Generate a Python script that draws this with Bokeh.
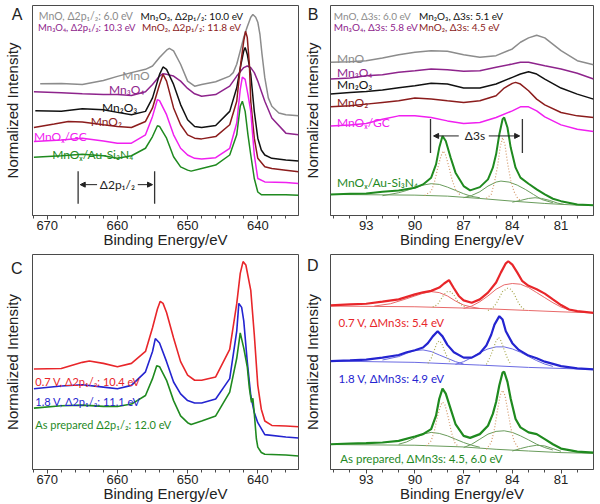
from bokeh.plotting import figure
from bokeh.layouts import column, row
from bokeh.models import Range1d, Label, Arrow, NormalHead, FixedTicker
from bokeh.embed import file_html
from bokeh.resources import INLINE

# ---------------- Panel A : Mn 2p ----------------
A_MnO = [(671, 130.7), (668, 131), (665, 130), (662, 134), (660, 138), (658, 141.7), (656, 145), (655, 148.3),
         (654, 156.7), (653, 164), (652.6, 165.7), (652, 163.3), (651, 150), (650, 133.3), (649, 128.3), (648, 130),
         (646, 132.7), (644, 138.3), (643.5, 141.7), (643, 150), (642.5, 163.3), (642, 176.7), (641.5, 187.3),
         (641, 196.7), (640.7, 199.3), (640.3, 196.7), (640, 191.7), (639.7, 180), (639.4, 160), (639, 136.7),
         (638.5, 116.7), (638, 108.3), (637, 101.7), (636, 100), (634.2, 99)]
A_Mn3O4 = [(671.9, 122.7), (668, 121.7), (665, 120.7), (662, 120), (660, 120), (658, 119), (656, 122.7), (655, 130),
           (654, 138.3), (653.5, 140.7), (653, 140), (652, 138.3), (651, 133.3), (650, 126), (649, 120.7), (648, 118.3),
           (646, 120), (644, 128.3), (643, 138.3), (642, 146.7), (641.5, 148.3), (641, 146.7), (640.5, 141.7),
           (640, 133.3), (639.5, 123.3), (639, 113.3), (638, 96.7), (636, 81.7), (634.2, 80)]
A_Mn2O3 = [(671.7, 104), (668, 103.3), (665, 106), (662, 105), (660, 102.3), (658, 100), (656, 103.3), (655, 116.7),
           (654, 140), (653.5, 147.3), (653, 145), (652, 130), (651, 110), (650, 95), (649, 88.3), (648, 87.3),
           (646, 89.3), (644, 103.3), (643, 126.7), (642.4, 150), (642, 163.3), (641.8, 166.7), (641.5, 160),
           (641, 140), (640.5, 103.3), (640, 76.7), (639.5, 65), (639, 60), (638, 56.7), (636, 55), (634.2, 54)]
A_MnO2 = [(671.9, 87.3), (669, 90.7), (667, 93.3), (665, 92.7), (662, 90), (660, 88.3), (658, 87.3), (656, 93.3),
          (655, 106.7), (654, 130), (653.5, 140), (653, 133.3), (652, 106.7), (651, 90), (650, 80), (649, 76.7),
          (648, 76), (646, 78.3), (644, 90), (643, 113.3), (642.5, 146.7), (642, 173.3), (641.75, 182.7),
          (641.5, 176.7), (641.2, 150), (641, 113.3), (640.5, 76.7), (640, 56.7), (639, 48.3), (638, 46.7),
          (636, 45), (634.2, 43.3)]
A_GC = [(671.9, 73.3), (668, 75), (665, 76.7), (662, 74), (660, 71.7), (658, 71.7), (656, 80), (655, 98.3),
        (654.3, 115), (654, 114), (653, 100), (652, 80), (651, 66.7), (650, 60), (649, 56.7), (648, 56), (646, 57.3),
        (644, 66.7), (643, 91.7), (642.5, 125), (642.2, 137.3), (641.8, 135), (641.4, 120), (641, 103.3),
        (640.5, 60), (640, 36.7), (639, 33.3), (636, 32.7), (634.2, 31.7)]
A_Au = [(671.9, 57.7), (668, 59.3), (665, 60.7), (662, 59.3), (660, 56.7), (658, 59.3), (656, 66.7), (655, 78.3),
        (654.3, 89), (654, 88.3), (653, 76.7), (652, 58.3), (651, 48.3), (650, 45), (649.5, 44), (648, 46.7),
        (646, 50), (644, 60), (643, 80), (642.5, 108.3), (642.2, 113.3), (641.8, 103.3), (641.4, 80), (641, 60),
        (640.5, 36.7), (640, 23.3), (639.5, 20.7), (636, 20.7), (634.2, 20)]
A_marks = [665.6, 654.7]          # Δ2p1/2 bracket positions (eV)
A_mark_y = [11.6, 44]

# ---------------- Panel B : Mn 3s ----------------
B_MnO = [(95.2, 152.7), (94, 153.3), (93, 154.3), (92, 157), (91, 160.3), (90, 162.7), (89, 164.3), (88, 163.7),
         (87, 160.3), (86, 157.7), (85, 159.3), (84, 166), (83.5, 172.7), (83, 177), (82.5, 179.7), (82, 177),
         (81, 164.3), (80, 154.3), (79, 150.3)]
B_Mn3O4 = [(95.2, 136), (94, 137), (93, 139.3), (92, 140.3), (91, 142.7), (90, 144.3), (89, 146), (88, 145.3),
           (87, 143.7), (86, 144.3), (85, 147.7), (84, 151), (83.5, 152.7), (83, 152.7), (82.5, 151), (82, 149.3),
           (81, 146), (80, 141.7), (79, 136)]
B_Mn2O3 = [(95.2, 121), (94, 122.7), (93, 123.7), (92, 125), (91, 127.3), (90, 129.3), (89, 131.7), (88, 131),
           (87, 127), (86, 127), (85, 131), (84, 137.7), (83.5, 141), (83, 143.3), (82.5, 141), (82, 136), (81, 127),
           (80, 121), (79, 116)]
B_MnO2 = [(95.2, 108.3), (94, 109.3), (93, 111), (92, 112.7), (91, 114.3), (90, 117), (89, 116), (88, 114.3),
          (87, 112.7), (86, 114.3), (85, 119.3), (84.5, 127), (84, 131.7), (83.8, 132.7), (83.5, 131), (83, 124.3),
          (82.5, 116), (82, 110.3), (81, 102.7), (80, 99.3), (79, 97.7)]
B_GC = [(95.2, 89.3), (94, 90.3), (93, 91.7), (92, 96), (91, 99.3), (90, 99.3), (89, 97.7), (88, 94.3), (87, 91.7),
        (86, 92.7), (85, 97.7), (84, 104.3), (83.5, 108.3), (83, 108.3), (82.5, 104.3), (82, 98.3), (81, 90.3),
        (80, 86), (79, 83.7)]
B_Au = [(95.2, 21), (94, 21.7), (93, 22), (92, 23.7), (91, 25), (90, 27.7), (89.5, 31), (89, 37.7), (88.7, 51),
        (88.5, 67.7), (88.3, 79.3), (88.1, 74.3), (87.8, 57.7), (87.5, 42.7), (87, 29.3), (86.6, 25), (86, 28.3),
        (85.5, 36), (85.2, 47.7), (85, 61), (84.8, 81), (84.6, 96), (84.5, 97.7), (84.3, 87.7), (84.1, 67.7),
        (83.8, 47.7), (83.5, 37.7), (83, 31.7), (82.5, 26), (82, 21), (81.5, 16.7), (81, 14.3), (80, 11), (79, 10.3)]
B_bg = [(95.2, 21), (90, 20.3), (88, 19.3), (86, 17), (84, 14.3), (82, 12), (80, 10.3), (79, 10)]
B_fit1 = [(92, 19.7), (91, 22.7), (90.5, 25), (90, 27.7), (89.5, 30.3), (89, 31.7), (88.5, 31), (88, 28.3),
          (87.5, 25), (87, 21.7), (86.5, 19), (86, 17.7)]
B_fit2 = [(87, 17.7), (86.5, 20), (86, 23.7), (85.5, 29.3), (85, 33.3), (84.7, 34.3), (84.2, 33.3), (83.7, 30.3),
          (83.2, 26), (82.7, 21), (82.2, 16), (81.5, 12.7)]
B_fit3 = [(84, 13.3), (83.5, 15), (83, 17), (82.6, 17.7), (82.2, 17), (81.7, 15), (81.2, 12.3), (80.8, 11)]
B_dot1 = [(89.4, 20), (89, 24), (88.8, 33), (88.6, 47), (88.4, 59), (88.25, 64.3), (88.1, 60), (87.9, 48),
          (87.7, 35), (87.5, 26), (87.2, 20)]
B_dot2 = [(85.6, 17), (85.3, 21), (85.1, 33), (84.9, 50), (84.75, 68), (84.6, 77.7), (84.45, 70), (84.3, 53),
          (84.1, 35), (83.9, 24), (83.7, 18), (83.5, 15)]
B_marks = [89.04, 83.38]
B_mark_y = [62.3, 96.3]

# ---------------- Panel C : Mn 2p vs potential ----------------
C_07 = [(671.9, 98.7), (668, 99.3), (665, 105.3), (664, 106.7), (662, 104.3), (660, 101), (658, 104.3), (656, 116),
        (655, 139.3), (654.3, 157.7), (653.9, 165.3), (653.5, 163.3), (653, 154.3), (652, 129.3), (651, 106),
        (650, 92.7), (649, 87.7), (648, 87.7), (646, 91), (644, 118), (643, 163), (642.5, 192.7), (642.1, 204.3),
        (641.7, 201), (641, 176), (640.5, 132.7), (640, 82.7), (639.5, 59.3), (639, 47.7), (638, 43.3),
        (636, 42.7), (634.2, 42)]
C_18 = [(671.9, 79.3), (668, 82), (665, 83.3), (662, 81), (660, 79.3), (658, 82.7), (656, 96), (655, 116),
        (654.6, 128.7), (654, 124.3), (653, 106), (652, 86), (651, 74.3), (650, 67.7), (649, 65.3), (648, 65.3),
        (646, 69.3), (644, 89.3), (643, 136), (642.7, 163.3), (642.3, 159.3), (642, 146), (641.5, 106),
        (641, 72.7), (640.5, 56), (640, 46), (639, 34.3), (636, 32), (634.2, 31)]
C_AP = [(671.9, 60.3), (668, 62.7), (665, 63.3), (662, 62), (660, 62), (658, 64.3), (656, 72.7), (655, 89.3),
        (654.4, 102), (654, 101), (653, 87.7), (652, 67.7), (651, 52.7), (650, 46), (649.5, 44.3), (648, 47.7),
        (646, 52.7), (644, 76), (643, 109.3), (642.5, 134.3), (642, 119.3), (641.5, 101), (641.2, 80),
        (640.9, 66), (640.7, 70), (640.5, 55), (640.2, 30), (640, 22), (639.5, 16.7), (639, 15), (636, 14.3),
        (634.2, 13.3)]

# ---------------- Panel D : Mn 3s vs potential ----------------
D_07 = [(95.2, 162.3), (94, 163.3), (93, 164), (92, 166), (91, 168.3), (90, 173.3), (89.5, 175.3), (89, 176.7),
        (88.5, 180), (88.2, 184), (87.9, 187.3), (87.6, 179.3), (87.3, 171.7), (87, 167.3), (86.5, 165),
        (86, 168.3), (85.5, 175), (85, 185), (84.7, 195), (84.4, 204), (84.25, 206), (84, 202.7), (83.7, 195),
        (83.4, 186.7), (83, 181.7), (82.5, 178.3), (82, 174), (81.5, 168.3), (81, 162.7), (80.5, 158.3),
        (80, 156.7), (79, 155)]
D_07_bg = [(95.2, 161.7), (90, 161), (86, 159.3), (83, 157.3), (81, 156), (79, 155)]
D_07_fit1 = [(92.5, 161.7), (91.5, 164), (90.5, 169), (90, 171.7), (89.5, 174.3), (89, 176), (88.5, 175),
             (88, 171.7), (87.5, 166.7), (87, 162.7), (86.5, 160.7), (86, 159.3)]
D_07_fit2 = [(87, 159.3), (86.5, 161.7), (86, 166), (85.5, 171.7), (85, 178.3), (84.5, 182.7), (84, 184),
             (83.5, 183.3), (83, 180), (82.5, 175), (82, 170), (81.5, 165), (81, 160.7), (80.5, 158), (80, 156.7)]
D_07_dot1 = [(88.9, 160.7), (88.6, 163.3), (88.4, 168.3), (88.2, 173.3), (88, 176), (87.8, 176), (87.6, 172.7),
             (87.4, 167.3), (87.2, 163.3), (86.9, 160.7)]
D_07_dot2 = [(85.5, 157.3), (85.2, 160), (85, 164), (84.8, 170), (84.6, 176), (84.3, 179.3), (84.1, 178.3),
             (83.9, 174), (83.7, 167.3), (83.5, 161.7), (83.2, 157.3)]
D_18 = [(95.2, 107.3), (94, 108), (93, 108.7), (92, 110.7), (91, 113.3), (90.5, 116), (90, 118), (89.5, 120.7),
        (89.2, 125), (88.9, 131.7), (88.6, 136.7), (88.3, 131.7), (88, 123.3), (87.6, 116), (87, 110.7),
        (86.5, 110.7), (86, 115), (85.6, 122.7), (85.3, 133.3), (85.1, 143.3), (84.8, 151.7), (84.6, 148.3),
        (84.4, 136.7), (84, 125), (83.6, 118.3), (83, 112.7), (82.5, 110), (82, 106.7), (81, 102.3), (80, 100),
        (79, 99)]
D_18_bg = [(95.2, 107.3), (90, 106), (86, 103.3), (83, 101), (79, 99)]
D_18_fit1 = [(92, 108.3), (91, 111.7), (90.5, 115), (90, 117.7), (89.5, 118.3), (89, 116.7), (88.5, 113.3),
             (88, 110), (87.5, 106.7), (87, 104.3)]
D_18_fit2 = [(87.5, 104), (87, 106.7), (86.5, 110.7), (86, 115.7), (85.5, 119.3), (85, 121.3), (84.5, 121.3),
             (84, 119.3), (83.5, 116), (83, 111.7), (82.5, 107.7), (82, 104.3), (81.5, 102)]
D_18_dot1 = [(89.2, 105), (89, 110), (88.8, 118.3), (88.65, 125), (88.5, 127.3), (88.35, 125), (88.2, 118.3),
             (88, 110.7), (87.8, 105)]
D_18_dot2 = [(85.6, 104), (85.4, 110), (85.2, 118.3), (85, 127.3), (84.85, 130.7), (84.7, 127.3), (84.5, 118.3),
             (84.3, 110), (84.1, 104)]
D_AP = [(95.2, 25), (94, 25.7), (93, 26), (92, 26.7), (91, 28.3), (90, 32.7), (89.5, 35), (89, 40), (88.7, 53.3),
        (88.5, 70), (88.3, 80), (88.1, 75), (87.8, 60), (87.5, 45), (87, 33.3), (86.6, 31.3), (86, 35), (85.5, 43.3),
        (85.2, 55), (85, 66.7), (84.8, 83.3), (84.6, 96), (84.5, 96.7), (84.3, 86.7), (84.1, 70), (83.8, 50),
        (83.5, 41.7), (83, 36.7), (82.5, 35), (82, 30), (81.5, 25), (81, 20.7), (80, 17.7), (79, 16.7)]
D_AP_bg = [(95.2, 24.7), (90, 24), (87, 22.3), (85, 20), (83, 18.3), (81, 16.7), (79, 16)]
D_AP_fit1 = [(91, 25), (90.5, 27.3), (90, 31.3), (89.5, 35), (89, 36.7), (88.5, 35.7), (88, 33.3), (87.5, 30),
             (87, 26.7), (86.5, 24), (86, 22)]
D_AP_fit2 = [(87, 21.7), (86.5, 25), (86, 30), (85.5, 35), (85, 37.7), (84.5, 38.3), (84, 36.7), (83.5, 33.3),
             (83, 29.3), (82.5, 25), (82, 21.7), (81.5, 19.3)]
D_AP_fit3 = [(84, 18.3), (83.5, 20.7), (83, 22.7), (82.5, 24), (82, 23.3), (81.5, 20.7), (81, 18)]
D_AP_dot1 = [(89.3, 23.3), (89, 28.3), (88.8, 38.3), (88.6, 53.3), (88.4, 64), (88.3, 66.7), (88.15, 64),
             (87.95, 51.7), (87.75, 36.7), (87.55, 26.7), (87.3, 22.3)]
D_AP_dot2 = [(85.6, 20), (85.3, 26.7), (85.1, 40), (84.9, 60), (84.75, 73.3), (84.6, 78.3), (84.45, 73.3),
             (84.3, 60), (84.1, 41.7), (83.9, 28.3), (83.6, 20)]

# tick values
A_major = [670, 660, 650, 640]
A_minor = [636, 638, 642, 644, 646, 648, 652, 654, 656, 658, 662, 664, 666, 668, 672]
B_major = [93, 90, 87, 84, 81]
B_minor = [80, 82, 83, 85, 86, 88, 89, 91, 92, 94, 95]

# colours
GREY, PURPLE, BLACK, DRED = "#8c8c8c", "#8e248c", "#111111", "#8b1c1c"
MAG, GREEN, RED, BLUE = "#f020f0", "#1f8a1f", "#e8262a", "#2424d0"
FITG, DOTT, FITR, FITB, DOTO = "#6a9c5c", "#d4996a", "#e86a6a", "#6a6ae2", "#a8a850"
FRAME = "#4a4a4a"
AXF, TXF = "Liberation Sans", "Lato"
DOT = "1 2"


def unzip(pairs):
    return [a for a, b in pairs], [b for a, b in pairs]


def panel(xr, ymax, major, minor, width, height, bl, br, bt, letter, letter_y, lab_std, ylab_std):
    p = figure(width=width, height=height, x_range=Range1d(xr[0], xr[1]), y_range=Range1d(0, ymax),
               output_backend="svg", toolbar_location=None,
               min_border_left=bl, min_border_right=br, min_border_top=bt, min_border_bottom=20)
    p.grid.visible = False
    p.outline_line_color = FRAME
    p.outline_line_width = 1
    xa = p.xaxis[0]
    xa.ticker = FixedTicker(ticks=major, minor_ticks=minor)
    xa.axis_label = "Binding Energy/eV"
    xa.axis_label_text_font = AXF
    xa.axis_label_text_font_size = "15px"
    xa.axis_label_text_font_style = "normal"
    xa.axis_label_text_color = "#222222"
    xa.axis_label_standoff = -2
    xa.major_label_text_font = AXF
    xa.major_label_text_font_size = "13px"
    xa.major_label_text_color = "#222222"
    xa.major_label_standoff = 1
    xa.major_tick_in = 0
    xa.major_tick_out = 4
    xa.minor_tick_in = 0
    xa.minor_tick_out = 3
    xa.axis_line_color = FRAME
    xa.major_tick_line_color = FRAME
    xa.minor_tick_line_color = FRAME
    # left axis: no ticks, panel letter as the only label, plus the axis title
    ya = p.yaxis[0]
    ya.ticker = FixedTicker(ticks=[letter_y])
    ya.major_label_overrides = {letter_y: letter}
    ya.major_label_text_font = AXF
    ya.major_label_text_font_size = "16px"
    ya.major_label_text_color = "#222222"
    ya.major_label_standoff = lab_std
    ya.major_tick_out = 0
    ya.major_tick_in = 0
    ya.minor_tick_out = 0
    ya.minor_tick_in = 0
    ya.axis_line_color = None
    ya.major_tick_line_color = None
    ya.minor_tick_line_color = None
    ya.axis_label = "Normalized Intensity"
    ya.axis_label_text_font = AXF
    ya.axis_label_text_font_size = "15px"
    ya.axis_label_text_font_style = "normal"
    ya.axis_label_text_color = "#222222"
    ya.axis_label_standoff = ylab_std
    return p


def curve(p, pairs, color, width=1.5, dash="solid"):
    xs, ys = unzip(pairs)
    p.line(xs, ys, line_color=color, line_width=width, line_dash=dash)


def text(p, x, y, s, color, size="11px", font=TXF, align="left", baseline="alphabetic"):
    p.add_layout(Label(x=x, y=y, text=s, text_color=color, text_font=font, text_font_size=size,
                       text_align=align, text_baseline=baseline))


def bracket(p, marks, ys, arrows, label, lx, ly, size):
    p.segment(x0=marks, y0=[ys[0]] * 2, x1=marks, y1=[ys[1]] * 2, line_color="#333333", line_width=1.3)
    for (x0, x1) in arrows:
        p.add_layout(Arrow(end=NormalHead(size=5, fill_color="#222222", line_color="#222222"),
                           x_start=x0, y_start=ly, x_end=x1, y_end=ly, line_color="#222222", line_width=1))
    text(p, lx, ly, label, "#222222", size=size, baseline="middle", align="center")


# ---------- A ----------
pA = panel((672.1, 634.2), 208.3, A_major, A_minor, 300, 250, 32, 2, 5, "A", 199, 10, -12)
for data, col in [(A_MnO, GREY), (A_Mn3O4, PURPLE), (A_Mn2O3, BLACK), (A_MnO2, DRED), (A_GC, MAG), (A_Au, GREEN)]:
    curve(pA, data, col, 1.5)
text(pA, 671.2, 197.6, "MnO, Δ2p₁/₂: 6.0 eV", GREY, "10.5px")
text(pA, 656.7, 197.6, "Mn₂O₃, Δ2p₁/₂: 10.0 eV", BLACK, "10px")
text(pA, 671.3, 186.6, "Mn₃O₄, Δ2p₁/₂: 10.3 eV", PURPLE, "9.5px")
text(pA, 656.5, 186.6, "MnO₂, Δ2p₁/₂: 11.8 eV", DRED, "10px")
text(pA, 659.3, 139.3, "MnO", GREY, "12px")
text(pA, 661.2, 125, "Mn₃O₄", PURPLE, "12px")
text(pA, 662.2, 107, "Mn₂O₃", BLACK, "12px")
text(pA, 663.8, 93, "MnO₂", DRED, "12px")
text(pA, 671.9, 78, "MnOₓ/GC", MAG, "12px")
text(pA, 669.3, 61, "MnOₓ/Au-Si₃N₄", GREEN, "12px")
bracket(pA, A_marks, A_mark_y, [(662.9, 665.3), (657.1, 655.0)], "Δ2p₁/₂", 660.0, 30.6, "12px")

# ---------- B ----------
pB = panel((95.2, 79.0), 209.3, B_major, B_minor, 300, 250, 25, 7, 5, "B", 200, 12, -16)
for data, col in [(B_MnO, GREY), (B_Mn3O4, PURPLE), (B_Mn2O3, BLACK), (B_MnO2, DRED), (B_GC, MAG)]:
    curve(pB, data, col, 1.5)
for comp in (B_bg, B_fit1, B_fit2, B_fit3):
    curve(pB, comp, FITG, 1)
for comp in (B_dot1, B_dot2):
    curve(pB, comp, DOTT, 1.2, DOT)
curve(pB, B_Au, GREEN, 2)
text(pB, 95.0, 198.5, "MnO, Δ3s: 6.0 eV", GREY, "10px")
text(pB, 89.75, 198.5, "Mn₂O₃, Δ3s: 5.1 eV", BLACK, "10px")
text(pB, 95.0, 187.5, "Mn₃O₄, Δ3s: 5.8 eV", PURPLE, "10px")
text(pB, 89.75, 187.5, "MnO₂, Δ3s: 4.5 eV", DRED, "10px")
text(pB, 94.8, 156.3, "MnO", GREY, "12px")
text(pB, 94.8, 142.7, "Mn₃O₄", PURPLE, "12px")
text(pB, 94.8, 130.3, "Mn₂O₃", BLACK, "12px")
text(pB, 94.8, 112.7, "MnO₂", DRED, "12px")
text(pB, 94.8, 92.7, "MnOₓ/GC", MAG, "12px")
text(pB, 94.8, 33, "MnOₓ/Au-Si₃N₄", GREEN, "12px")
bracket(pB, B_marks, B_mark_y, [(87.3, 88.85), (85.45, 83.55)], "Δ3s", 86.3, 79.3, "12px")

# ---------- C ----------
pC = panel((672.1, 634.2), 211.3, A_major, A_minor, 300, 254, 32, 2, 4, "C", 198, 10, -13)
curve(pC, C_07, RED, 1.6)
curve(pC, C_18, BLUE, 1.6)
curve(pC, C_AP, GREEN, 1.6)
text(pC, 671.7, 86, "0.7 V, Δ2p₁/₂: 10.4 eV", RED, "11px")
text(pC, 671.7, 66.7, "1.8 V, Δ2p₁/₂: 11.1 eV", BLUE, "11px")
text(pC, 671.7, 44.3, "As prepared Δ2p₁/₂: 12.0 eV", GREEN, "11px")

# ---------- D ----------
pD = panel((95.2, 79.0), 212.7, B_major, B_minor, 300, 254, 25, 7, 4, "D", 202, 12, -17)
for comp in (D_07_bg, D_07_fit1, D_07_fit2):
    curve(pD, comp, FITR, 1)
for comp in (D_07_dot1, D_07_dot2):
    curve(pD, comp, DOTO, 1.2, DOT)
curve(pD, D_07, RED, 2.2)
for comp in (D_18_bg, D_18_fit1, D_18_fit2):
    curve(pD, comp, FITB, 1)
for comp in (D_18_dot1, D_18_dot2):
    curve(pD, comp, DOTO, 1.2, DOT)
curve(pD, D_18, BLUE, 2.2)
for comp in (D_AP_bg, D_AP_fit1, D_AP_fit2, D_AP_fit3):
    curve(pD, comp, FITG, 1)
for comp in (D_AP_dot1, D_AP_dot2):
    curve(pD, comp, DOTT, 1.2, DOT)
curve(pD, D_AP, GREEN, 2.2)
text(pD, 94.7, 145, "0.7 V, ΔMn3s: 5.4 eV", RED, "11.5px")
text(pD, 94.7, 90, "1.8 V, ΔMn3s: 4.9 eV", BLUE, "11.5px")
text(pD, 94.6, 10.7, "As prepared, ΔMn3s: 4.5, 6.0 eV", GREEN, "11.5px")

layout = column(row(pA, pB), row(pC, pD))
open("out.html", "w").write(file_html(layout, INLINE))
